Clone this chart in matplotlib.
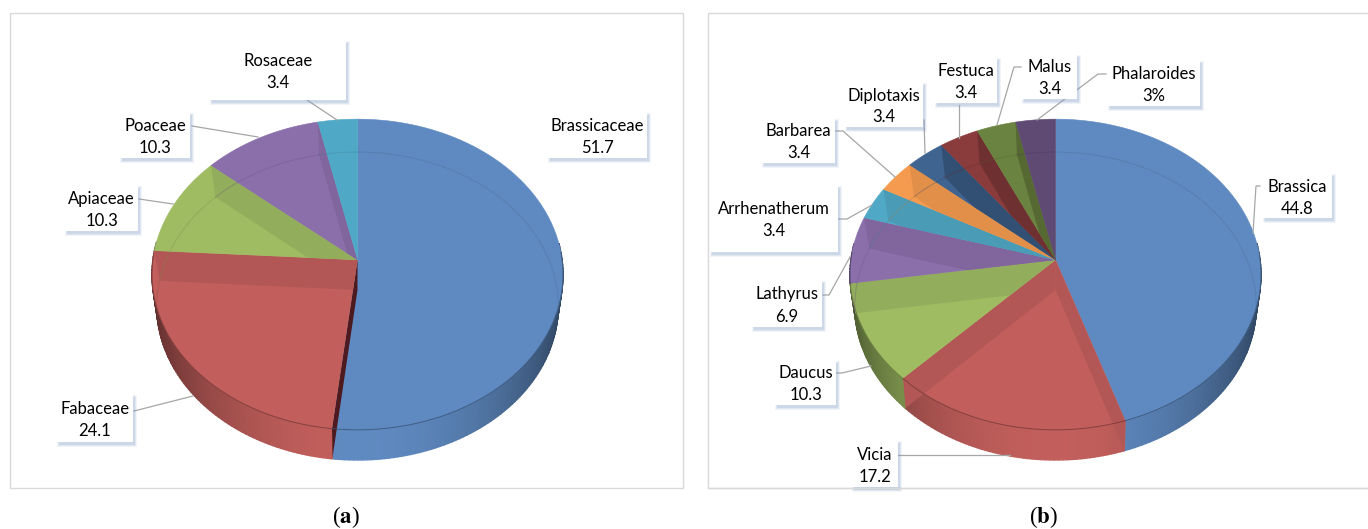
import numpy as np
import matplotlib
matplotlib.use('Agg')
import matplotlib.pyplot as plt
from matplotlib.patches import Rectangle, PathPatch
from matplotlib.path import Path
from matplotlib.colors import to_rgb

# data
family_names = ['Brassicaceae', 'Fabaceae', 'Apiaceae', 'Poaceae', 'Rosaceae']
family_values = [51.7, 24.1, 10.3, 10.3, 3.4]
family_text = ['51.7', '24.1', '10.3', '10.3', '3.4']
family_colors = ['#5f8ac1', '#c25f5c', '#9fbc63', '#8b6fab', '#4fa9c6']

genus_names = ['Brassica', 'Vicia', 'Daucus', 'Lathyrus', 'Arrhenatherum',
               'Barbarea', 'Diplotaxis', 'Festuca', 'Malus', 'Phalaroides']
genus_values = [44.8, 17.2, 10.3, 6.9, 3.4, 3.4, 3.4, 3.4, 3.4, 3.4]
genus_text = ['44.8', '17.2', '10.3', '6.9', '3.4', '3.4', '3.4', '3.4', '3.4', '3%']
genus_colors = ['#5f8ac1', '#c25f5c', '#9fbc63', '#8b6fab', '#4fa9c6',
                '#f59b4f', '#3f6490', '#8a3c3c', '#6b8340', '#5f4a73']

# label layout: box x0, y0, x1, y1, then the leader line
family_boxes = [
    ((548, 112, 647, 158), []),
    ((57, 394, 133, 442), [(134, 411), (193, 396)]),
    ((65, 185, 138, 231), [(139, 199), (173, 204)]),
    ((120, 112, 190, 158), [(192, 126), (258, 137)]),
    ((210, 40, 346, 100), [(307, 100), (337, 120)]),
]
genus_boxes = [
    ((1263, 173, 1332, 218), [(1260, 186), (1256, 186), (1253, 233)]),
    ((852, 440, 898, 487), [(898, 455), (1010, 455)]),
    ((775, 360, 836, 405), [(836, 373), (842, 373), (871, 366)]),
    ((752, 280, 822, 327), [(823, 295), (829, 295), (850, 257)]),
    ((710, 185, 838, 252), [(838, 219), (847, 219), (872, 205)]),
    ((762, 118, 835, 163), [(835, 131), (843, 131), (895, 177)]),
    ((845, 82, 923, 127), [(924, 120), (925, 153)]),
    ((935, 57, 997, 103), [(959, 105), (959, 138)]),
    ((1022, 54, 1077, 99), [(1021, 67), (1014, 67), (997, 125)]),
    ((1108, 60, 1200, 106), [(1106, 74), (1098, 74), (1037, 120)]),
]

# pie shape in pixels
CY = 260
DEPTH = 30


def proj(cx, ang, low=False):
    u = np.sin(ang)
    v = np.cos(ang)
    if low:
        # lower ellipse is a bit narrower
        w = 1 + 0.104 * v
        return cx + 199.6 * u / w, CY + DEPTH - 152.3 * v / w
    w = 1 + 0.0933 * v
    return cx + 204.6 * u / w, CY - 154 * v / w


def shade(col, f):
    return tuple(c * f for c in to_rgb(col))


def ring(x, y):
    # closed polygon with one fixed orientation, so a compound path has no holes
    if np.sum(x * np.roll(y, -1) - np.roll(x, -1) * y) < 0:
        x, y = x[::-1], y[::-1]
    return Path(np.c_[np.r_[x, x[0]], np.r_[y, y[0]]], closed=True)


def draw_pie(ax, cx, values, colors):
    vals = np.array(values, dtype=float)
    edges = np.concatenate([[0], np.cumsum(vals) / vals.sum()]) * 2 * np.pi
    n = len(vals)

    # outer wall, only the part facing us
    for i in range(n):
        t = np.arange(edges[i], edges[i + 1] + 0.02, 0.02)
        t = t[np.cos(t) < 0.12]
        for a, b in zip(t[:-1], t[1:]):
            xa, ya = proj(cx, np.array([a, b]))
            xb, yb = proj(cx, np.array([b, a]), True)
            f = 1 - 0.5 * np.sin(a) ** 2
            ax.fill(np.r_[xa, xb], np.r_[ya, yb], color=shade(colors[i], f), lw=1.0, zorder=2)

    # top faces
    for i in range(n):
        t = np.linspace(edges[i], edges[i + 1], 80)
        x, y = proj(cx, t)
        ax.fill(np.r_[cx, x], np.r_[CY, y], color=colors[i], lw=0.4, zorder=3)

    # radial walls seen through the faces, clipped to the slice below them
    for i in range(n - 1):
        th = edges[i + 1]
        low = i + 1 if th < np.pi else i
        t = np.linspace(edges[low], edges[low + 1], 80)
        x0, y0 = proj(cx, t)
        parts = [ring(np.r_[cx, x0], np.r_[CY, y0])]
        tf = t[np.cos(t) < 0]
        if len(tf) > 1:
            xf, yf = proj(cx, tf)
            xg, yg = proj(cx, tf[::-1], True)
            parts.append(ring(np.r_[xf, xg], np.r_[yf, yg]))
        clip = PathPatch(Path.make_compound_path(*parts), transform=ax.transData)
        rx, ry = proj(cx, th)
        bx, by = proj(cx, th, True)
        edge_on = abs(np.sin(th)) < 0.15 and np.cos(th) < 0
        # the dark slices have a much darker wall
        f = 0.8 if np.mean(to_rgb(colors[low])) < 0.45 else 0.92
        col = (0.3, 0.1, 0.12) if edge_on else shade(colors[low], f)
        p = ax.fill([cx, rx, bx, cx], [CY, ry, by, CY + DEPTH], color=col, lw=0, zorder=4)[0]
        p.set_clip_path(clip)

    # rims: front of the top ellipse, and the lower ellipse showing through
    for i in range(n):
        t = np.linspace(edges[i], edges[i + 1], 80)
        x, y = proj(cx, t)
        front = np.cos(t) < 0.05
        ax.plot(x[front], y[front], color=shade(colors[i], 0.6), lw=0.7, alpha=0.8, zorder=5)
        x, y = proj(cx, t, True)
        inner = np.cos(t) > -0.12
        ax.plot(x[inner], y[inner], color=shade(colors[i], 0.75), lw=0.7, alpha=0.35, zorder=5)


def draw_labels(ax, names, text, boxes):
    for name, val, (box, line) in zip(names, text, boxes):
        x0, y0, x1, y1 = box
        if line:
            ax.plot(*zip(*line), color='#a6a6a6', lw=0.9, zorder=6)
        for grow, al in [(2, 0.10), (1, 0.14), (0, 0.2)]:
            ax.add_patch(Rectangle((x0 + 2 - grow, y0 + 3 - grow), x1 - x0 + 2 * grow, y1 - y0 + 2 * grow,
                                   fc='#7f9cc6', ec='none', alpha=al, zorder=7))
        ax.add_patch(Rectangle((x0, y0), x1 - x0, y1 - y0, fc='white', ec='none', zorder=8))
        xc = (x0 + x1) / 2
        yc = (y0 + y1) / 2
        ax.text(xc, yc - 4, name, ha='center', va='baseline', fontsize=12, color='black',
                family='Lato', zorder=9)
        ax.text(xc, yc + 18, val, ha='center', va='baseline', fontsize=12, color='black',
                family='Lato', zorder=9)


fig = plt.figure(figsize=(13.68, 5.29), dpi=100)
ax = fig.add_axes([0, 0, 1, 1])
ax.set_xlim(0, 1368)
ax.set_ylim(529, 0)
ax.axis('off')

# frames of both panels
ax.add_patch(Rectangle((9.5, 12.5), 673.5, 475, fc='white', ec='#d9d9d9', lw=1, zorder=1))
ax.add_patch(Rectangle((707.5, 12.5), 670, 475, fc='white', ec='#d9d9d9', lw=1, zorder=1))

draw_pie(ax, 357.5, family_values, family_colors)
draw_pie(ax, 1055.5, genus_values, genus_colors)
draw_labels(ax, family_names, family_text, family_boxes)
draw_labels(ax, genus_names, genus_text, genus_boxes)

ax.plot([707.5, 1368], [487.5, 487.5], color='#d9d9d9', lw=1, zorder=10)

ax.text(346, 517, r'($\mathbf{a}$)', ha='center', va='center', fontsize=16.5, family='Liberation Serif',
        math_fontfamily='stix', color='black')
ax.text(1043, 517, r'($\mathbf{b}$)', ha='center', va='center', fontsize=16.5, family='Liberation Serif',
        math_fontfamily='stix', color='black')

fig.savefig('out.png', dpi=100)
